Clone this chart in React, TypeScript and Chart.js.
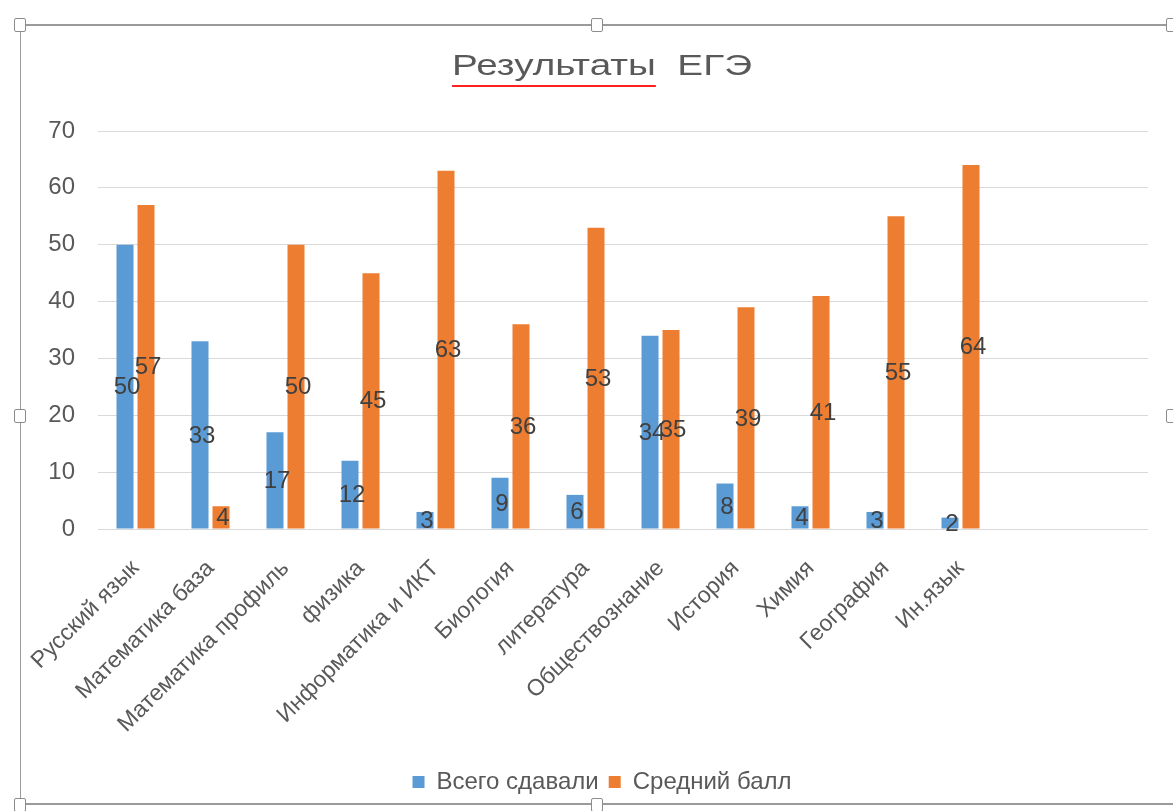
import React, { useEffect, useRef } from "react";
import { Chart, registerables } from "chart.js";

Chart.register(...registerables);

const categories = [
  "Русский язык",
  "Математика база",
  "Математика профиль",
  "физика",
  "Информатика и ИКТ",
  "Биология",
  "литература",
  "Обществознание",
  "История",
  "Химия",
  "География",
  "Ин.язык",
  "",
  "",
];
const totalTaken = [50, 33, 17, 12, 3, 9, 6, 34, 8, 4, 3, 2, null, null];
const avgScore = [57, 4, 50, 45, 63, 36, 53, 35, 39, 41, 55, 64, null, null];
const yTicks = [0, 10, 20, 30, 40, 50, 60, 70];
const seriesNames = ["Всего сдавали", "Средний балл"];
const titleText = "Результаты  ЕГЭ";
const underlinedWord = "Результаты";

const FONT = "'Liberation Sans', Arial, sans-serif";
const GRAY = "#595959";
const TITLE_SIZE = 30;
const TITLE_STRETCH = 1.29;

const dataLabels = {
  id: "dataLabels",
  afterDatasetsDraw(chart: any) {
    const ctx = chart.ctx;
    ctx.save();
    ctx.font = `24px ${FONT}`;
    ctx.fillStyle = "#404040";
    ctx.textAlign = "center";
    ctx.textBaseline = "middle";
    chart.data.datasets.forEach((ds: any, i: number) => {
      const meta = chart.getDatasetMeta(i);
      meta.data.forEach((el: any, j: number) => {
        const v = ds.data[j];
        if (v === null || v === undefined) return;
        ctx.fillText(String(v), el.x + 2, (el.y + el.base) / 2 + 1);
      });
    });
    ctx.restore();
  },
};

const widenYLabelArea = {
  id: "widenYLabelArea",
  afterLayout(chart: any) {
    const y = chart.scales.y;
    if (y) y.left = 0;
  },
};

const customTitle = {
  id: "customTitle",
  afterDraw(chart: any) {
    const tb = chart.titleBlock;
    if (!tb) return;
    const ctx = chart.ctx;
    ctx.save();
    ctx.font = `${TITLE_SIZE}px ${FONT}`;
    const full = ctx.measureText(titleText).width;
    const word = ctx.measureText(underlinedWord).width;
    const cx = tb.left + tb.width / 2;
    const cy = tb.top + tb.options.padding.top + TITLE_SIZE * 0.6 + 1;
    ctx.translate(cx, cy);
    ctx.scale(TITLE_STRETCH, 1);
    ctx.fillStyle = GRAY;
    ctx.textAlign = "center";
    ctx.textBaseline = "middle";
    ctx.fillText(titleText, 0, 0);
    ctx.strokeStyle = "#ff2020";
    ctx.lineWidth = 2;
    ctx.beginPath();
    ctx.moveTo(-full / 2, 19);
    ctx.lineTo(-full / 2 + word, 19);
    ctx.stroke();
    ctx.restore();
  },
};

function ChartView() {
  const ref = useRef<HTMLCanvasElement>(null);
  useEffect(() => {
    if (!ref.current) return;
    const chart = new Chart(ref.current, {
      type: "bar",
      data: {
        labels: categories,
        datasets: [
          {
            label: seriesNames[0],
            data: totalTaken,
            backgroundColor: "#5B9BD5",
            categoryPercentage: 0.56,
            barPercentage: 0.81,
          },
          {
            label: seriesNames[1],
            data: avgScore,
            backgroundColor: "#ED7D31",
            categoryPercentage: 0.56,
            barPercentage: 0.81,
          },
        ],
      },
      options: {
        responsive: false,
        animation: false,
        devicePixelRatio: 1,
        layout: {
          autoPadding: false,
          padding: { left: 56, right: 25, top: 20, bottom: 7 },
        },
        plugins: {
          tooltip: { enabled: false },
          title: {
            display: true,
            text: titleText,
            color: "rgba(0,0,0,0)",
            font: { family: FONT, size: TITLE_SIZE, weight: "normal" },
            padding: { top: 28, bottom: 47 },
          },
          legend: {
            position: "bottom",
            labels: {
              boxWidth: 12,
              boxHeight: 12,
              padding: 10,
              color: GRAY,
              font: { family: FONT, size: 24 },
            },
          },
        },
        scales: {
          x: {
            grid: { display: false, drawTicks: false },
            border: { display: false },
            ticks: {
              autoSkip: false,
              maxRotation: 45,
              minRotation: 45,
              padding: 26,
              color: GRAY,
              font: { family: FONT, size: 23 },
            },
            afterFit: (s: any) => {
              s.height = 231;
            },
          },
          y: {
            min: 0,
            max: 70,
            afterBuildTicks: (s: any) => {
              s.ticks = yTicks.map((v) => ({ value: v }));
            },
            grid: { color: "#d9d9d9", lineWidth: 1, drawTicks: false },
            border: { display: false },
            ticks: {
              padding: 23,
              color: GRAY,
              font: { family: FONT, size: 24 },
            },
            afterFit: (s: any) => {
              s.width = 42;
            },
          },
        },
      },
      plugins: [dataLabels, widenYLabelArea, customTitle],
    } as any);
    return () => chart.destroy();
  }, []);
  return (
    <canvas
      ref={ref}
      width={1173}
      height={811}
      style={{ position: "absolute", left: 0, top: 0, width: 1173, height: 811 }}
    />
  );
}

const handle = (left: number, top: number, w = 12, h = 14): React.CSSProperties => ({
  position: "absolute",
  left,
  top,
  width: w,
  height: h,
  background: "#fff",
  border: "1px solid #8c8c8c",
  borderRadius: 2,
  boxSizing: "border-box",
});

export default function App() {
  return (
    <div
      style={{
        position: "fixed",
        left: 0,
        top: 0,
        width: 1173,
        height: 811,
        background: "#fff",
        overflow: "hidden",
      }}
    >
      <ChartView />
      <div
        style={{
          position: "absolute",
          left: 20,
          top: 24,
          width: 1180,
          height: 781,
          borderTop: "2px solid #9a9a9a",
          borderLeft: "1px solid #9a9a9a",
          borderBottom: "2px solid #9a9a9a",
          boxSizing: "border-box",
          pointerEvents: "none",
        }}
      />
      <div style={handle(14, 18)} />
      <div style={handle(591, 18)} />
      <div style={handle(1166, 18)} />
      <div style={handle(14, 409)} />
      <div style={handle(1166, 409)} />
      <div style={handle(14, 798)} />
      <div style={handle(591, 798)} />
    </div>
  );
}
